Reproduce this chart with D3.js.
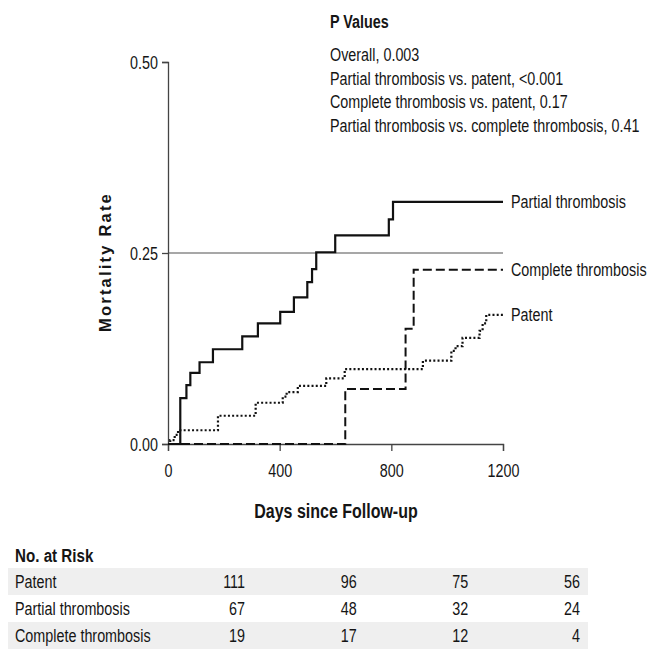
<!DOCTYPE html>
<html>
<head>
<meta charset="utf-8">
<title>Mortality by thrombosis status</title>
<script src="https://d3js.org/d3.v7.min.js"></script>
<style>
  body { margin: 0; background: #fff; }
  text { font-family: "Liberation Sans", Arial, sans-serif; fill: #151515; }
</style>
</head>
<body>
<script>
// step curves (day of event, cumulative mortality)
var partialDays  = [0, 44, 66, 80, 113, 161, 266, 322, 402, 451, 499, 516, 531, 599, 791, 806, 1200];
var partialRate  = [0, 0.060, 0.077, 0.093, 0.107, 0.124, 0.141, 0.158, 0.173, 0.192, 0.212, 0.229, 0.251, 0.273, 0.294, 0.317, 0.317];
var patentDays   = [0, 8, 24, 36, 179, 314, 411, 425, 465, 567, 633, 913, 1015, 1030, 1055, 1116, 1127, 1140, 1200];
var patentRate   = [0, 0.005, 0.012, 0.018, 0.037, 0.054, 0.062, 0.068, 0.076, 0.086, 0.098, 0.109, 0.122, 0.128, 0.139, 0.148, 0.158, 0.169, 0.169];
var completeDays = [0, 635, 851, 880, 1200];
var completeRate = [0, 0.072, 0.151, 0.228, 0.228];

var xTicks = [0, 400, 800, 1200];
var yTicks = [0, 0.25, 0.5];

var pTitle = "P Values";
var pLines = ["Overall, 0.003",
              "Partial thrombosis vs. patent, <0.001",
              "Complete thrombosis vs. patent, 0.17",
              "Partial thrombosis vs. complete thrombosis, 0.41"];

var groups  = ["Patent", "Partial thrombosis", "Complete thrombosis"];
var atRisk  = [[111, 96, 75, 56], [67, 48, 32, 24], [19, 17, 12, 4]];

var w = 652, h = 649;
var svg = d3.select("body").append("svg").attr("width", w).attr("height", h);

var x = d3.scaleLinear().domain([0, 1200]).range([168, 503]);
var y = d3.scaleLinear().domain([0, 0.5]).range([444, 62]);

var SX = 0.82; // squeeze to look like the condensed journal font
function ntext(x0, y0, str, size, anchor, weight) {
    return svg.append("text")
        .attr("transform", "translate(" + x0 + "," + y0 + ") scale(" + SX + ",1)")
        .attr("font-size", size)
        .attr("text-anchor", anchor || "start")
        .attr("font-weight", weight || "normal")
        .text(str);
}

// reference line at 0.25
svg.append("line")
    .attr("x1", x(0)).attr("x2", x(1200))
    .attr("y1", y(0.25)).attr("y2", y(0.25))
    .attr("stroke", "#8a8a8a").attr("stroke-width", 1.3);

// axes
var xAxis = svg.append("g").attr("transform", "translate(0," + y(0) + ")")
    .call(d3.axisBottom(x).tickValues(xTicks).tickSize(7).tickFormat(d3.format("d")));
var yAxis = svg.append("g").attr("transform", "translate(" + x(0) + ",0)")
    .call(d3.axisLeft(y).tickValues(yTicks).tickSize(6).tickFormat(d3.format(".2f")));
[xAxis, yAxis].forEach(function(a) {
    a.select(".domain").attr("stroke", "#444").attr("stroke-width", 1.3);
    a.selectAll(".tick line").attr("stroke", "#444").attr("stroke-width", 1.3);
    a.selectAll(".tick text").attr("font-size", 17.5).attr("fill", "#151515")
        .attr("font-family", "Liberation Sans, Arial, sans-serif");
});
xAxis.selectAll(".tick text").attr("dy", 0).attr("y", 0)
    .attr("transform", "translate(0,33) scale(" + SX + ",1)");
yAxis.selectAll(".tick text").attr("x", 0).attr("dy", "0.35em")
    .attr("transform", "translate(-10,0) scale(" + SX + ",1)");

// curves
var line = d3.line().curve(d3.curveStepAfter)
    .x(function(d) { return x(d[0]); })
    .y(function(d) { return y(d[1]); });

function series(days, rate) { return days.map(function(d, i) { return [d, rate[i]]; }); }

svg.append("path").datum(series(completeDays, completeRate))
    .attr("d", line).attr("fill", "none").attr("stroke", "#111")
    .attr("stroke-width", 2).attr("stroke-dasharray", "9,4");
svg.append("path").datum(series(patentDays, patentRate))
    .attr("d", line).attr("fill", "none").attr("stroke", "#111")
    .attr("stroke-width", 2.2).attr("stroke-dasharray", "2,2.2");
svg.append("path").datum(series(partialDays, partialRate))
    .attr("d", line).attr("fill", "none").attr("stroke", "#111")
    .attr("stroke-width", 2.2);

// curve labels at line ends
var ends = [["Partial thrombosis", partialRate], ["Complete thrombosis", completeRate], ["Patent", patentRate]];
ends.forEach(function(e) {
    ntext(x(1200) + 8, y(e[1][e[1].length - 1]) + 6, e[0], 17.5);
});

// P values block
ntext(330, 28, pTitle, 17.5, "start", "bold");
pLines.forEach(function(s, i) { ntext(330, 61 + i * 23.5, s, 17.5); });

// axis titles
ntext(336, 518, "Days since Follow-up", 19.5, "middle", "bold");
svg.append("text")
    .attr("transform", "translate(111,262) rotate(-90)")
    .attr("text-anchor", "middle")
    .attr("font-family", "DejaVu Sans, sans-serif")
    .attr("font-weight", "bold").attr("font-size", 16.5)
    .attr("letter-spacing", 2.2)
    .text("Mortality Rate");

// number at risk table
ntext(15, 562, "No. at Risk", 18.5, "start", "bold");
var rowTop = 568, rowH = 27;
groups.forEach(function(g, i) {
    if (i % 2 === 0) {
        svg.append("rect").attr("x", 8).attr("y", rowTop + i * rowH)
            .attr("width", 580).attr("height", rowH).attr("fill", "#efefef");
    }
    var by = rowTop + i * rowH + 20;
    ntext(15, by, g, 17.5);
    atRisk[i].forEach(function(n, j) {
        ntext(x(xTicks[j]) + 77, by, n, 17.5, "end");
    });
});
</script>
</body>
</html>
